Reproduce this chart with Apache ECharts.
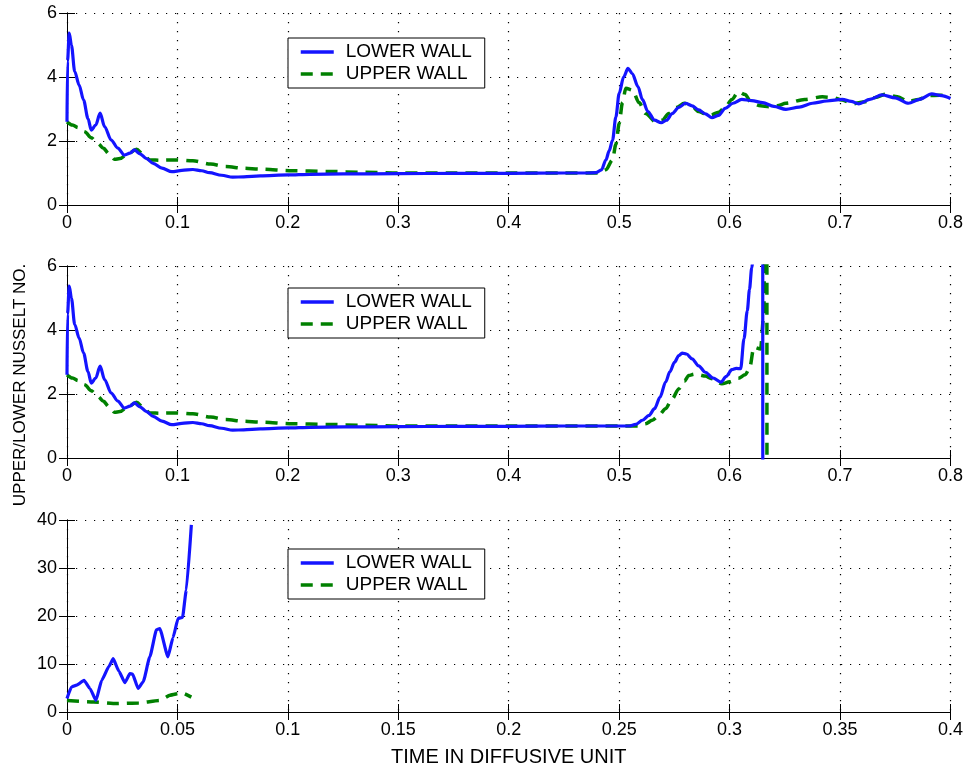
<!DOCTYPE html>
<html>
<head>
<meta charset="utf-8">
<script src="https://cdn.jsdelivr.net/npm/echarts@6/dist/echarts.min.js"></script>
<style>
html,body{margin:0;padding:0;background:#fff;}
#chart{width:966px;height:768px;}
</style>
</head>
<body>
<div id="chart"></div>
<script>
// ---------- DATA ----------
const seriesNames = ['LOWER WALL', 'UPPER WALL'];
const xAxisTitle = 'TIME IN DIFFUSIVE UNIT';
const yAxisTitle = 'UPPER/LOWER NUSSELT NO.';

// Panel 1 (top)
const topLowerT = [0, 0.0005, 0.002, 0.004, 0.007, 0.011, 0.015, 0.019, 0.022, 0.026, 0.030, 0.034, 0.040, 0.046, 0.052, 0.057, 0.061, 0.066, 0.072, 0.078, 0.086, 0.095, 0.104, 0.114, 0.122, 0.129, 0.140, 0.150, 0.160, 0.175, 0.2, 0.22, 0.25, 0.3, 0.35, 0.4, 0.45, 0.47, 0.479, 0.484, 0.488, 0.491, 0.494, 0.497, 0.500, 0.504, 0.508, 0.512, 0.517, 0.521, 0.526, 0.532, 0.538, 0.543, 0.548, 0.554, 0.560, 0.566, 0.572, 0.578, 0.584, 0.590, 0.596, 0.603, 0.611, 0.620, 0.630, 0.640, 0.651, 0.663, 0.675, 0.688, 0.702, 0.710, 0.717, 0.727, 0.738, 0.750, 0.762, 0.772, 0.783, 0.792, 0.8];
const topLowerY = [2.6, 4.5, 5.37, 5.0, 4.17, 3.75, 3.28, 2.7, 2.34, 2.5, 2.87, 2.45, 2.03, 1.78, 1.56, 1.62, 1.72, 1.6, 1.45, 1.30, 1.15, 1.04, 1.08, 1.11, 1.07, 1.01, 0.93, 0.87, 0.88, 0.91, 0.94, 0.96, 0.97, 0.98, 0.99, 0.99, 1.0, 1.0, 1.01, 1.1, 1.41, 1.7, 2.03, 2.75, 3.49, 4.0, 4.27, 4.1, 3.70, 3.3, 2.92, 2.65, 2.57, 2.65, 2.86, 3.05, 3.18, 3.1, 2.97, 2.85, 2.73, 2.8, 3.02, 3.18, 3.30, 3.26, 3.20, 3.08, 2.99, 3.06, 3.18, 3.25, 3.30, 3.24, 3.16, 3.3, 3.44, 3.35, 3.18, 3.3, 3.47, 3.42, 3.33];
const topUpperT = [0, 0.005, 0.010, 0.016, 0.022, 0.028, 0.033, 0.038, 0.043, 0.048, 0.055, 0.063, 0.069, 0.075, 0.085, 0.099, 0.114, 0.13, 0.144, 0.160, 0.175, 0.204, 0.235, 0.27, 0.3, 0.35, 0.4, 0.45, 0.482, 0.488, 0.494, 0.497, 0.500, 0.503, 0.506, 0.512, 0.518, 0.524, 0.533, 0.539, 0.545, 0.552, 0.559, 0.566, 0.572, 0.578, 0.583, 0.590, 0.596, 0.602, 0.608, 0.614, 0.620, 0.628, 0.636, 0.643, 0.651, 0.668, 0.684, 0.693, 0.702, 0.711, 0.723, 0.732, 0.741, 0.752, 0.762, 0.771, 0.780, 0.790, 0.8];
const topUpperY = [2.6, 2.5, 2.42, 2.29, 2.1, 1.92, 1.77, 1.6, 1.43, 1.45, 1.6, 1.74, 1.58, 1.41, 1.40, 1.41, 1.38, 1.28, 1.20, 1.15, 1.12, 1.07, 1.05, 1.02, 1.0, 1.0, 1.0, 1.0, 1.0, 1.1, 1.41, 1.9, 2.55, 3.2, 3.65, 3.59, 3.2, 2.86, 2.60, 2.65, 2.86, 3.05, 3.18, 3.08, 2.92, 2.85, 2.81, 2.9, 3.05, 3.3, 3.54, 3.45, 3.18, 3.10, 3.07, 3.1, 3.18, 3.3, 3.38, 3.36, 3.28, 3.16, 3.23, 3.36, 3.46, 3.38, 3.23, 3.3, 3.42, 3.43, 3.42];

// Panel 2 (middle)
const midLowerT = [0, 0.0005, 0.002, 0.004, 0.007, 0.011, 0.015, 0.019, 0.022, 0.026, 0.030, 0.034, 0.040, 0.046, 0.052, 0.057, 0.061, 0.066, 0.072, 0.078, 0.086, 0.095, 0.104, 0.114, 0.122, 0.129, 0.140, 0.150, 0.160, 0.175, 0.2, 0.22, 0.25, 0.3, 0.35, 0.4, 0.45, 0.5, 0.509, 0.515, 0.521, 0.527, 0.532, 0.537, 0.542, 0.546, 0.550, 0.554, 0.557, 0.561, 0.566, 0.572, 0.578, 0.585, 0.592, 0.597, 0.602, 0.606, 0.610, 0.613, 0.616, 0.618, 0.620, 0.623, 0.627, 0.6298, 0.6302];
const midLowerY = [2.6, 4.5, 5.37, 5.0, 4.17, 3.75, 3.28, 2.7, 2.34, 2.5, 2.87, 2.45, 2.03, 1.78, 1.56, 1.62, 1.72, 1.6, 1.45, 1.30, 1.15, 1.04, 1.08, 1.11, 1.07, 1.01, 0.93, 0.87, 0.88, 0.91, 0.94, 0.96, 0.97, 0.98, 0.99, 0.99, 1.0, 1.0, 1.0, 1.05, 1.18, 1.33, 1.54, 1.9, 2.37, 2.7, 2.99, 3.2, 3.28, 3.25, 3.10, 2.88, 2.68, 2.5, 2.37, 2.55, 2.76, 2.8, 2.79, 3.72, 4.6, 5.27, 5.94, 7, 8, 30, -30];
const midUpperT = [0, 0.005, 0.010, 0.016, 0.022, 0.028, 0.033, 0.038, 0.043, 0.048, 0.055, 0.063, 0.069, 0.075, 0.085, 0.099, 0.114, 0.13, 0.144, 0.160, 0.175, 0.204, 0.235, 0.27, 0.3, 0.35, 0.4, 0.45, 0.5, 0.518, 0.524, 0.530, 0.536, 0.542, 0.548, 0.554, 0.559, 0.563, 0.568, 0.572, 0.578, 0.584, 0.593, 0.600, 0.608, 0.614, 0.618, 0.622, 0.628, 0.631, 0.6335, 0.634];
const midUpperY = [2.6, 2.5, 2.42, 2.29, 2.1, 1.92, 1.77, 1.6, 1.43, 1.45, 1.6, 1.74, 1.58, 1.41, 1.40, 1.41, 1.38, 1.28, 1.20, 1.15, 1.12, 1.07, 1.05, 1.02, 1.0, 1.0, 1.0, 1.0, 1.0, 1.0, 1.07, 1.18, 1.33, 1.54, 1.85, 2.16, 2.4, 2.58, 2.62, 2.60, 2.56, 2.48, 2.32, 2.38, 2.49, 2.6, 2.79, 3.46, 3.41, 4.5, 30, -30];

// Panel 3 (bottom)
const botLowerT = [0, 0.002, 0.0044, 0.0077, 0.0104, 0.0131, 0.0157, 0.019, 0.0209, 0.0235, 0.0262, 0.0285, 0.0297, 0.0322, 0.0345, 0.0375, 0.0405, 0.042, 0.0457, 0.048, 0.0503, 0.0523, 0.054, 0.0563];
const botLowerY = [2.8, 5.2, 5.6, 6.6, 4.9, 2.4, 6.6, 9.5, 11.1, 8.5, 6.1, 8.0, 7.9, 4.9, 6.3, 11.5, 17.1, 17.4, 11.5, 15.5, 19.5, 19.7, 25.4, 39.0];
const botUpperT = [0, 0.012, 0.0224, 0.0325, 0.042, 0.0466, 0.0519, 0.0563];
const botUpperY = [2.4, 2.1, 1.75, 1.9, 2.4, 3.5, 4.0, 3.1];

// ---------- CHART ----------
const FONT = '"Liberation Sans", Arial, Helvetica, sans-serif';
const BLUE = '#1414ff';
const GREEN = '#008000';
const zip = (t, y) => t.map((v, i) => [v, y[i]]);

const panels = [
  { top: 13, xMax: 0.8, xInt: 0.1, yMax: 6, yInt: 2, legendTop: 38,
    lower: zip(topLowerT, topLowerY), upper: zip(topUpperT, topUpperY), smooth: 0.3 },
  { top: 266, xMax: 0.8, xInt: 0.1, yMax: 6, yInt: 2, legendTop: 288,
    lower: zip(midLowerT, midLowerY), upper: zip(midUpperT, midUpperY), smooth: 0.3 },
  { top: 520, xMax: 0.4, xInt: 0.05, yMax: 40, yInt: 10, legendTop: 549,
    lower: zip(botLowerT, botLowerY), upper: zip(botUpperT, botUpperY), smooth: 0.15 }
];

const grids = [], xAxes = [], yAxes = [], series = [], legends = [];
const frameLine = { show: true, lineStyle: { color: '#000', width: 1 } };
const tick = { show: true, inside: true, length: 8, lineStyle: { color: '#000', width: 1 } };
const split = { show: true, lineStyle: { color: '#000', width: 1.2, type: [1.2, 7.8] } };
const lbl = { color: '#000', fontFamily: FONT, fontSize: 18 };

panels.forEach((p, i) => {
  grids.push({ left: 67, right: 14, top: p.top, height: 192 });
  xAxes.push({ type: 'value', gridIndex: i, position: 'bottom', min: 0, max: p.xMax, interval: p.xInt,
    axisLine: frameLine, axisTick: tick, splitLine: split,
    axisLabel: Object.assign({ margin: 9 }, lbl),
    name: i === 2 ? xAxisTitle : '', nameLocation: 'middle', nameGap: 35,
    nameTextStyle: { color: '#000', fontFamily: FONT, fontSize: 20 } });
  xAxes.push({ type: 'value', gridIndex: i, position: 'top', min: 0, max: p.xMax, interval: p.xInt,
    axisLine: frameLine, axisTick: tick, splitLine: { show: false }, axisLabel: { show: false } });
  yAxes.push({ type: 'value', gridIndex: i, position: 'left', min: 0, max: p.yMax, interval: p.yInt,
    axisLine: frameLine, axisTick: tick, splitLine: split,
    axisLabel: Object.assign({ margin: 10 }, lbl) });
  yAxes.push({ type: 'value', gridIndex: i, position: 'right', min: 0, max: p.yMax, interval: p.yInt,
    axisLine: frameLine, axisTick: tick, splitLine: { show: false }, axisLabel: { show: false } });
  series.push({ name: seriesNames[0], type: 'line', xAxisIndex: 2 * i, yAxisIndex: 2 * i,
    data: p.lower, symbol: 'none', showSymbol: false, smooth: p.smooth, smoothMonotone: 'x', clip: true,
    lineStyle: { color: BLUE, width: 3.2 }, itemStyle: { color: BLUE }, z: 3 });
  series.push({ name: seriesNames[1], type: 'line', xAxisIndex: 2 * i, yAxisIndex: 2 * i,
    data: p.upper, symbol: 'none', showSymbol: false, smooth: p.smooth, smoothMonotone: 'x', clip: true,
    lineStyle: { color: GREEN, width: 3.5, type: [12, 8] }, itemStyle: { color: GREEN }, z: 2 });
  legends.push({ show: true, orient: 'vertical', left: 288, top: p.legendTop,
    data: seriesNames, backgroundColor: '#fff', borderColor: '#000', borderWidth: 1,
    padding: [4, 13, 4, 11], itemGap: 2, itemWidth: 33, itemHeight: 14,
    selectedMode: false,
    itemStyle: { opacity: 0, borderWidth: 0 },
    lineStyle: { width: 3.5, inactiveWidth: 3.5 },
    textStyle: { color: '#000', fontFamily: FONT, fontSize: 19, lineHeight: 20, padding: [0, 0, 0, 7] } });
});

const chart = echarts.init(document.getElementById('chart'), null, { renderer: 'canvas' });
chart.setOption({
  backgroundColor: '#fff',
  animation: false,
  grid: grids,
  xAxis: xAxes,
  yAxis: yAxes,
  legend: legends,
  series: series,
  graphic: [{
    type: 'text',
    x: 20, y: 385,
    rotation: Math.PI / 2,
    style: { text: yAxisTitle, fill: '#000', font: '17px ' + FONT, textAlign: 'center', textVerticalAlign: 'middle' }
  }]
});
</script>
</body>
</html>
